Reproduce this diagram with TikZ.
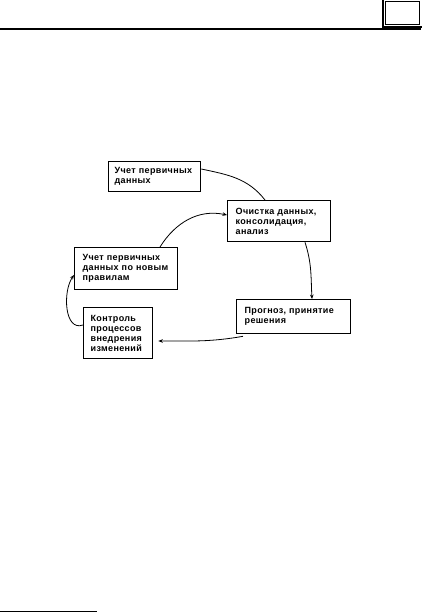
\documentclass[tikz,border=0pt]{standalone}
\usepackage{fontspec}
\newfontfamily\boxfont{Liberation Sans}[LetterSpace=4]
\usetikzlibrary{arrows.meta}
\begin{document}
\begin{tikzpicture}[x=1pt,y=-1pt,
  box/.style={draw, line width=1.3pt, anchor=north west, align=left,
    inner xsep=6pt, inner ysep=0pt, font=\boxfont\bfseries\fontsize{9}{10}\selectfont},
  link/.style={line width=0.8pt},
  arr/.style={link, -{Stealth[length=4.5pt,width=3.6pt]}}]
\useasboundingbox (0,0) rectangle (421,612);
% page decorations
\draw[line width=1.2pt] (0,29) -- (421,29);
\draw[line width=1.3pt] (383,-2) -- (383,27) -- (423,27);
\draw[line width=0.7pt] (385.5,1.8) rectangle (419,24.5);
\draw[line width=1pt] (0,611) -- (97,611);
% boxes
\node[box, text width=80pt, minimum width=92pt, minimum height=30pt] (b1) at (108,161)
  {Учет~первичных\\данных};
\node[box, inner xsep=8pt, text width=87pt, minimum width=103pt, minimum height=41pt] (b2) at (227,200)
  {Очистка~данных,\\консолидация,\\анализ};
\node[box, inner xsep=8pt, text width=87pt, minimum width=103pt, minimum height=42pt] (b3) at (74,247)
  {Учет~первичных\\данных~по~новым\\правилам};
\node[box, inner xsep=7pt, text width=55pt, minimum width=69pt, minimum height=51pt] (b4) at (83,307)
  {Контроль\\процессов\\внедрения\\изменений};
\node[box, inner xsep=8pt, text width=98pt, minimum width=114pt, minimum height=34pt] (b5) at (236,299)
  {Прогноз,~принятие\\решения};
% connectors
\draw[link] ([yshift=-8pt]b1.north east) to[out=-12,in=128] ([xshift=38pt]b2.north west);
\draw[arr] ([xshift=86pt]b3.north west) to[out=58,in=168] ([yshift=-15pt]b2.north west);
\draw[arr] ([xshift=78pt]b2.south west) to[out=-72,in=93] ([xshift=76pt]b5.north west);
\draw[arr] ([xshift=7pt,yshift=-2pt]b5.south west) to[out=190,in=0] ([xshift=5pt,yshift=-34pt]b4.north east);
\draw[arr] ([yshift=-18pt]b4.north west) to[out=200,in=235] ([yshift=-28pt]b3.north west);
\end{tikzpicture}
\end{document}
